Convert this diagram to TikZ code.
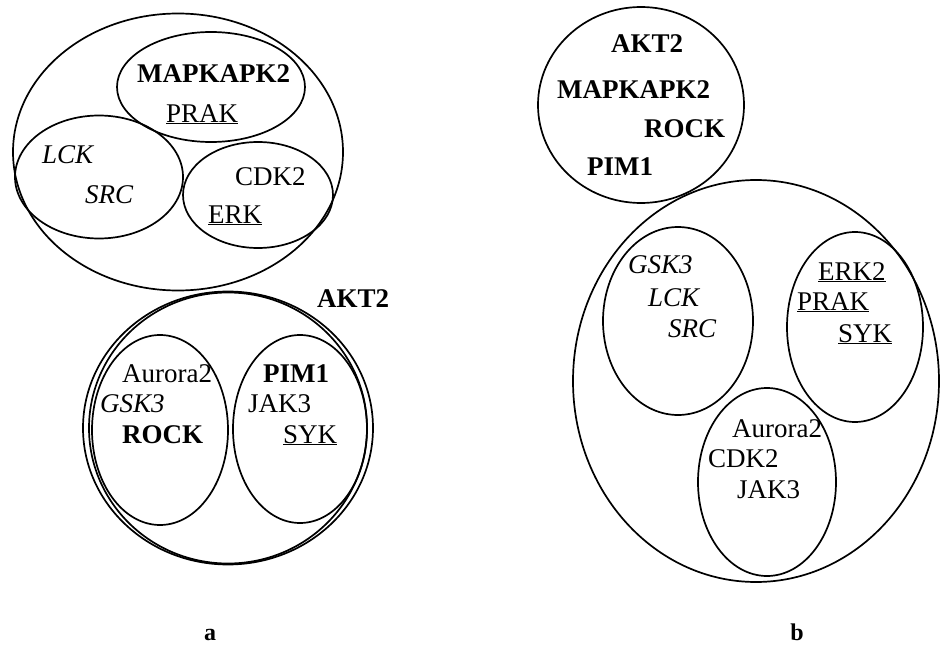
\documentclass[tikz,border=0pt]{standalone}
\usepackage{fontspec}
\setmainfont{Liberation Serif}
\usetikzlibrary{shapes.geometric}
\tikzset{
  ring/.style={draw, ellipse, line width=1.7pt, inner sep=0pt},
  lbl/.style={anchor=base west, inner sep=0pt, font=\fontsize{27}{30}\selectfont},
  blbl/.style={lbl, font=\fontsize{27}{30}\selectfont\bfseries},
  ilbl/.style={lbl, font=\fontsize{27}{30}\selectfont\itshape},
  panel/.style={anchor=base, inner sep=0pt, font=\fontsize{24}{26}\selectfont\bfseries}
}
\newcommand{\ulx}[1]{\underline{#1}}
\begin{document}
\begin{tikzpicture}[x=1pt,y=-1pt]
\useasboundingbox (0,0) rectangle (943,661);
% panel a
\node[ring, minimum width=330pt, minimum height=277pt] (aout) at (178,152) {};
\node[ring, minimum width=188pt, minimum height=110pt] (amap) at (211,87) {};
\node[ring, minimum width=168pt, minimum height=123pt] (alck) at (99,177) {};
\node[ring, minimum width=150pt, minimum height=106pt] (acdk) at (258,195) {};
\node[blbl] (t1) at (137,83) {MAPKAPK2};
\node[lbl] (t2) at (166,122) {\ulx{PRAK}};
\node[ilbl] (t3) at (42,163) {LCK};
\node[ilbl] (t4) at (85,203) {SRC};
\node[lbl] (t5) at (235,185) {CDK2};
\node[lbl] (t6) at (208,223) {\ulx{ERK}};
\node[ring, minimum width=290pt, minimum height=273pt] (alow) at (228,428) {};
\node[ring, minimum width=278pt, minimum height=271pt] (alow2) at (228,428) {};
\node[ring, minimum width=136pt, minimum height=190pt] (aaur) at (160,430) {};
\node[ring, minimum width=134pt, minimum height=188pt] (apim) at (300,429) {};
\node[blbl] (t7) at (317,307) {AKT2};
\node[lbl] (t8) at (122,382) {Aurora2};
\node[ilbl] (t9) at (100,412) {GSK3};
\node[blbl] (t10) at (122,443) {ROCK};
\node[blbl] (t11) at (263,382) {PIM1};
\node[lbl] (t12) at (248,412) {JAK3};
\node[lbl] (t13) at (283,443) {\ulx{SYK}};
\node[panel] (pa) at (210,640) {a};
% panel b
\node[ring, minimum width=206pt, minimum height=196pt] (btop) at (641,105) {};
\node[blbl] (u1) at (611,53) {AKT2};
\node[blbl] (u2) at (557,99) {MAPKAPK2};
\node[blbl] (u3) at (644,137) {ROCK};
\node[blbl] (u4) at (587,175) {PIM1};
\node[ring, minimum width=366pt, minimum height=402pt] (bbig) at (756,381) {};
\node[ring, minimum width=150pt, minimum height=188pt] (bgsk) at (678,321) {};
\node[ring, minimum width=136pt, minimum height=190pt] (berk) at (855,327) {};
\node[ring, minimum width=138pt, minimum height=188pt] (baur) at (767,482) {};
\node[ilbl] (u5) at (628,273) {GSK3};
\node[ilbl] (u6) at (648,306) {LCK};
\node[ilbl] (u7) at (668,337) {SRC};
\node[lbl] (u8) at (818,280) {\ulx{ERK2}};
\node[lbl] (u9) at (797,310) {\ulx{PRAK}};
\node[lbl] (u10) at (838,342) {\ulx{SYK}};
\node[lbl] (u11) at (732,437) {Aurora2};
\node[lbl] (u12) at (708,467) {CDK2};
\node[lbl] (u13) at (737,498) {JAK3};
\node[panel] (pb) at (797,640) {b};
\end{tikzpicture}
\end{document}
